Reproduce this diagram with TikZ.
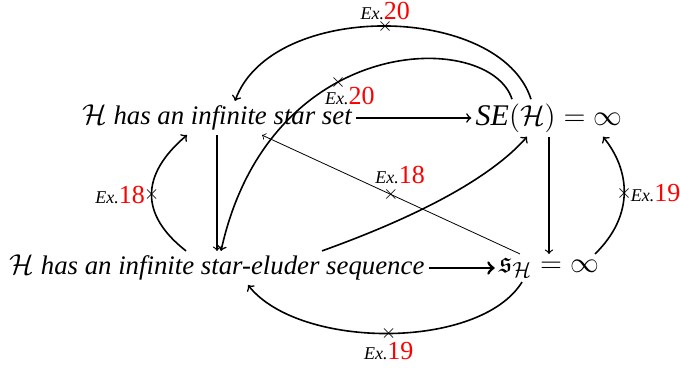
\documentclass[tikz,border=0pt]{standalone}
\usepackage{amssymb}
\usepackage{fontspec}
\setmainfont{Liberation Serif}
\usetikzlibrary{positioning}
\newcommand{\exno}[1]{{\fontsize{9}{10}\selectfont\itshape Ex.}\textcolor{red}{\fontsize{13}{15}\selectfont\upshape #1}}
\begin{document}
\begin{tikzpicture}[x=0.5pt,y=-0.5pt,font=\fontsize{13.4}{15}\selectfont\itshape,
  st/.style={inner sep=2pt},
  mst/.style={inner sep=2pt,font=\fontsize{15}{17}\selectfont\itshape},
  imp/.style={->,thick},
  cr/.style={font=\fontsize{10}{10}\selectfont,inner sep=0pt},
  lab/.style={inner sep=1pt}]
  \useasboundingbox (0,0) rectangle (680,368);
  \node[st] (sset) at (217,118){$\mathcal{H}$ has an infinite star set};
  \node[mst] (se) at (549,118){SE$(\mathcal{H})=\infty$};
  \node[st] (seq) at (217,268){$\mathcal{H}$ has an infinite star-eluder sequence};
  \node[mst] (sh) at (549,268){$\mathfrak{s}_{\mathcal{H}}=\infty$};
  \draw[imp] (sset) -- (se);
  \draw[->,line width=1.4pt] (seq) -- (sh);
  \draw[imp,semithick] (sset.south) -- (seq.north);
  \draw[imp,semithick] (se.south) -- (sh.north);
  \draw[imp] ([xshift=52.5pt]seq.north) .. controls (380,230) and (480,190) .. ([xshift=-11pt]se.south);
  \draw[imp] ([xshift=-9pt]se.north) .. controls (500,3) and (272,0) .. ([xshift=9pt]sset.north) node[pos=0.5,cr]{$\times$} node[pos=0.5,lab,above=2pt]{\exno{20}};
  \draw[imp] ([xshift=-18.5pt]se.north) .. controls (490,30) and (270,30) .. ([xshift=2pt]seq.north) node[pos=0.6,cr]{$\times$} node[pos=0.6,lab,below right=1pt and -8pt]{\exno{20}};
  \draw[->,thin] ([xshift=-14.5pt]sh.north) -- ([xshift=22.5pt]sset.south) node[pos=0.5,cr]{$\times$} node[pos=0.5,lab,above right=4pt and -9pt]{\exno{18}};
  \draw[imp] ([xshift=-15.5pt]seq.north) .. controls (140,215) and (140,175) .. ([xshift=-15pt]sset.south) node[pos=0.5,cr]{$\times$} node[pos=0.5,lab,left=2pt]{\exno{18}};
  \draw[imp] ([xshift=23pt]sh.north) .. controls (635,215) and (630,170) .. ([xshift=27pt]se.south) node[pos=0.5,cr]{$\times$} node[pos=0.5,lab,right=2pt]{\exno{19}};
  \draw[imp] ([xshift=-13.5pt]sh.south) .. controls (480,350) and (300,350) .. ([xshift=15.5pt]seq.south) node[pos=0.5,cr]{$\times$} node[pos=0.5,lab,below=3pt]{\exno{19}};
\end{tikzpicture}
\end{document}
